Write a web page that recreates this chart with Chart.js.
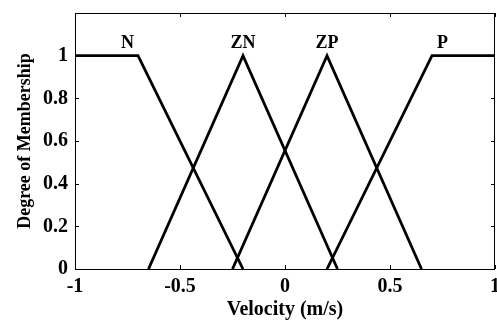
<!DOCTYPE html>
<html lang="en">
<head>
  <meta charset="UTF-8" />
  <title>Velocity membership functions</title>
  <script src="https://cdn.jsdelivr.net/npm/chart.js"></script>
  <style>
    body {
      margin: 0;
      background: #fff;
    }
    .wrap {
      width: 497px;
      height: 320px;
    }
  </style>
</head>
<body>

<div class="wrap"><canvas id="mf"></canvas></div>

<script>
// fuzzy sets for velocity
const setNames = ['N', 'ZN', 'ZP', 'P'];
const nX  = [-1, -0.7, -0.2];
const nY  = [1, 1, 0];
const znX = [-0.65, -0.2, 0.25];
const znY = [0, 1, 0];
const zpX = [-0.25, 0.2, 0.65];
const zpY = [0, 1, 0];
const pX  = [0.2, 0.7, 1];
const pY  = [0, 1, 1];
// where each set name sits
const nameX = [-0.75, -0.2, 0.2, 0.75];
const nameY = 1.06;

const xTicks = [-1, -0.5, 0, 0.5, 1];
const yTicks = [0, 0.2, 0.4, 0.6, 0.8, 1];

const FONT = '"Liberation Serif", "Times New Roman", serif';

function pts(xs, ys) {
  return xs.map((x, i) => ({ x: x, y: ys[i] }));
}

// matlab-style labels: 1 not 1.0
function fmt(v) {
  return String(+v.toFixed(2));
}

const sets = [[nX, nY], [znX, znY], [zpX, zpY], [pX, pY]];

// box + inward ticks on all four sides, then the set names
const frame = {
  id: 'frame',
  afterDatasetsDraw(chart) {
    const ctx = chart.ctx;
    const a = chart.chartArea;
    const xs = chart.scales.x, ys = chart.scales.y;
    const len = 4;
    ctx.save();
    ctx.strokeStyle = '#000';
    ctx.lineWidth = 1;
    ctx.strokeRect(a.left + 0.5, a.top + 0.5, a.right - a.left - 1, a.bottom - a.top);
    ctx.beginPath();
    xTicks.forEach(v => {
      const px = Math.round(xs.getPixelForValue(v)) + 0.5;
      ctx.moveTo(px, a.bottom); ctx.lineTo(px, a.bottom - len);
      ctx.moveTo(px, a.top); ctx.lineTo(px, a.top + len);
    });
    yTicks.forEach(v => {
      const py = Math.round(ys.getPixelForValue(v)) + 0.5;
      ctx.moveTo(a.left, py); ctx.lineTo(a.left + len, py);
      ctx.moveTo(a.right, py); ctx.lineTo(a.right - len, py);
    });
    ctx.stroke();

    ctx.fillStyle = '#000';
    ctx.font = 'bold 18px ' + FONT;
    ctx.textAlign = 'center';
    ctx.textBaseline = 'middle';
    setNames.forEach((name, i) => {
      ctx.fillText(name, xs.getPixelForValue(nameX[i]), ys.getPixelForValue(nameY));
    });
    ctx.restore();
  }
};

new Chart(document.getElementById('mf'), {
  type: 'scatter',
  data: {
    datasets: sets.map((s, i) => ({
      label: setNames[i],
      data: pts(s[0], s[1]),
      showLine: true,
      borderColor: '#000',
      borderWidth: 2.8,
      pointRadius: 0,
      tension: 0
    }))
  },
  options: {
    responsive: true,
    maintainAspectRatio: false,
    animation: false,
    layout: { padding: { top: 13, right: 2, left: 0, bottom: 0 } },
    plugins: {
      legend: { display: false },
      tooltip: { enabled: false }
    },
    scales: {
      x: {
        type: 'linear',
        min: -1,
        max: 1,
        afterBuildTicks: s => { s.ticks = xTicks.map(v => ({ value: v })); },
        afterFit: s => { s.height = 51; s.paddingLeft = 0; s.paddingRight = 0; },
        grid: { display: false, drawTicks: false },
        border: { display: false },
        ticks: {
          color: '#000',
          padding: 6,
          maxRotation: 0,
          callback: fmt,
          font: { family: FONT, size: 20, weight: 'bold' }
        },
        title: {
          display: true,
          text: 'Velocity (m/s)',
          color: '#000',
          padding: { top: 0, bottom: 0 },
          font: { family: FONT, size: 20, weight: 'bold', lineHeight: 1 }
        }
      },
      y: {
        min: 0,
        max: 1.2,
        afterBuildTicks: s => { s.ticks = yTicks.map(v => ({ value: v })); },
        afterFit: s => { s.width = 75; s.paddingTop = 0; s.paddingBottom = 0; },
        grid: { display: false, drawTicks: false },
        border: { display: false },
        ticks: {
          color: '#000',
          padding: 7,
          callback: fmt,
          font: { family: FONT, size: 20, weight: 'bold' }
        },
        title: {
          display: true,
          text: 'Degree of Membership',
          color: '#000',
          padding: { top: 15, bottom: 0 },
          font: { family: FONT, size: 18, weight: 'bold' }
        }
      }
    }
  },
  plugins: [frame]
});
</script>
</body>
</html>
